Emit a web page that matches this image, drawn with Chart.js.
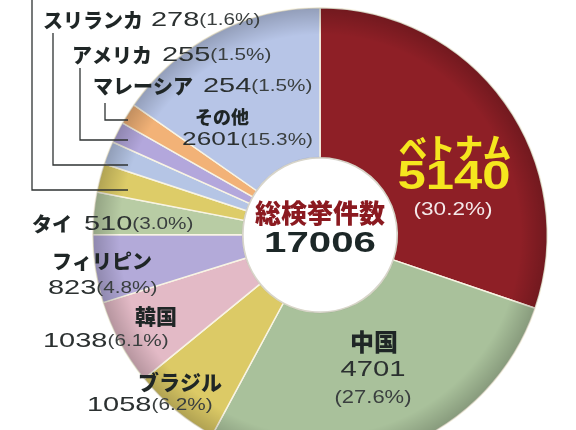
<!DOCTYPE html>
<html lang="ja">
  <head>
    <meta charset="UTF-8" />
    <title>総検挙件数 国籍別</title>
    <script src="https://cdn.jsdelivr.net/npm/chart.js"></script>
    <style>
      html,
      body {
        margin: 0;
        padding: 0;
        background: #ffffff;
        width: 576px;
        height: 430px;
        overflow: hidden;
      }
      #wrap {
        position: absolute;
        left: 0;
        top: 0;
        width: 576px;
        height: 470px;
      }
    </style>
  </head>
  <body>
    <div id="wrap"><canvas id="donut" width="576" height="470"></canvas></div>

    <script>
      // データ（時計回り、上から）
      const countries = [
        "ベトナム",
        "中国",
        "ブラジル",
        "韓国",
        "フィリピン",
        "タイ",
        "",
        "スリランカ",
        "アメリカ",
        "マレーシア",
        "その他",
      ];
      const counts = [5140, 4701, 1058, 1038, 823, 510, 348, 278, 255, 254, 2601];
      const shares = ["30.2", "27.6", "6.2", "6.1", "4.8", "3.0", "2.0", "1.6", "1.5", "1.5", "15.3"];
      const totalLabel = "総検挙件数";
      const totalCount = 17006;

      const sliceColors = [
        "#8e1f26",
        "#a9c19b",
        "#dcca66",
        "#e3bac6",
        "#b3aad9",
        "#b8cca4",
        "#ddcc68",
        "#b5c5e5",
        "#b3a7dc",
        "#f2b277",
        "#b7c5e7",
      ];

      // 文字スタイル
      const NAME = { font: '900 20px "Noto Sans CJK JP"', color: "#1f2626" };
      const NUM = { font: '21px "Liberation Sans"', color: "#2b3030", sx: 1.38 };
      const PCT = { font: '17px "Liberation Sans"', color: "#3a3f3f", sx: 1.22 };

      function part(style, text, gap) {
        return Object.assign({}, style, { text: text, gap: gap || 0 });
      }

      function drawRow(ctx, parts, x, y, align) {
        let total = 0;
        parts.forEach((p) => {
          ctx.font = p.font;
          p.w = ctx.measureText(p.text).width * (p.sx || 1);
          total += p.w + p.gap;
        });
        let cx = align === "right" ? x - total : align === "center" ? x - total / 2 : x;
        parts.forEach((p) => {
          ctx.save();
          ctx.font = p.font;
          ctx.fillStyle = p.color;
          ctx.textAlign = "left";
          ctx.textBaseline = "middle";
          ctx.translate(cx, y);
          ctx.scale(p.sx || 1, 1);
          ctx.fillText(p.text, 0, 0);
          ctx.restore();
          cx += p.w + p.gap;
        });
      }

      // ラベル配置
      function layoutLabels(ctx) {
        const num = (i) => String(counts[i]);
        const pct = (i) => "(" + shares[i] + "%)";

        // 上段（引き出し線つき）
        drawRow(ctx, [part(NAME, countries[7], 8), part(NUM, num(7)), part(PCT, pct(7))], 43, 20, "left");
        drawRow(ctx, [part(NAME, countries[8], 10), part(NUM, num(8)), part(PCT, pct(8))], 72, 55, "left");
        drawRow(ctx, [part(NAME, countries[9], 10), part(NUM, num(9)), part(PCT, pct(9))], 93, 86, "left");

        // その他
        drawRow(ctx, [part(Object.assign({}, NAME, { font: '900 18px "Noto Sans CJK JP"' }), countries[10])], 195, 117, "left");
        drawRow(ctx, [part(Object.assign({}, NUM, { font: '19px "Liberation Sans"' }), num(10)), part(PCT, pct(10))], 313, 140, "right");

        // ベトナム
        drawRow(ctx, [part({ font: '900 28px "Noto Sans CJK JP"', color: "#f5e61e" }, countries[0])], 455, 148, "center");
        drawRow(ctx, [part({ font: 'bold 40px "Liberation Sans"', color: "#f5e61e", sx: 1.27 }, num(0))], 454, 178, "center");
        drawRow(ctx, [part({ font: '18px "Liberation Sans"', color: "#f4e9ea", sx: 1.25 }, pct(0))], 453, 210, "center");

        // 中国
        drawRow(ctx, [part({ font: '900 24px "Noto Sans CJK JP"', color: "#1f2626" }, countries[1])], 374, 342, "center");
        drawRow(ctx, [part(Object.assign({}, NUM, { font: '22px "Liberation Sans"', sx: 1.33 }), num(1))], 373, 370, "center");
        drawRow(ctx, [part({ font: '18px "Liberation Sans"', color: "#3a3f3f", sx: 1.22 }, pct(1))], 373, 398, "center");

        // タイ
        drawRow(ctx, [part(NAME, countries[5], 12), part(NUM, num(5)), part(PCT, pct(5))], 32, 224, "left");

        // フィリピン
        drawRow(ctx, [part(NAME, countries[4])], 52, 261, "left");
        drawRow(ctx, [part(NUM, num(4)), part(PCT, pct(4))], 48, 288, "left");

        // 韓国
        drawRow(ctx, [part(Object.assign({}, NAME, { font: '900 21px "Noto Sans CJK JP"' }), countries[3])], 135, 316, "left");
        drawRow(ctx, [part(NUM, num(3)), part(PCT, pct(3))], 43, 341, "left");

        // ブラジル
        drawRow(ctx, [part(Object.assign({}, NAME, { font: '900 21px "Noto Sans CJK JP"' }), countries[2])], 138, 382, "left");
        drawRow(ctx, [part(NUM, num(2)), part(PCT, pct(2))], 87, 405, "left");
      }

      const decor = {
        id: "decor",
        afterDatasetsDraw(chart) {
          const ctx = chart.ctx;
          const arc = chart.getDatasetMeta(0).data[0];
          const { x, y, outerRadius, innerRadius } = arc;

          // 外周の陰影
          ctx.save();
          const g = ctx.createRadialGradient(x, y, innerRadius, x, y, outerRadius);
          g.addColorStop(0, "rgba(0,0,0,0)");
          g.addColorStop(0.82, "rgba(0,0,0,0)");
          g.addColorStop(1, "rgba(0,0,0,0.2)");
          ctx.beginPath();
          ctx.arc(x, y, outerRadius, 0, Math.PI * 2);
          ctx.arc(x, y, innerRadius, 0, Math.PI * 2, true);
          ctx.fillStyle = g;
          ctx.fill();

          // 中央の円のふち
          ctx.beginPath();
          ctx.arc(x, y, innerRadius, 0, Math.PI * 2);
          ctx.strokeStyle = "rgba(120,120,120,0.25)";
          ctx.lineWidth = 2;
          ctx.stroke();
          ctx.restore();

          // 引き出し線
          ctx.save();
          ctx.strokeStyle = "#2f3333";
          ctx.lineWidth = 1.3;
          [
            [32, -2, 190],
            [53, 33, 165],
            [80, 68, 140],
            [105, 103, 120],
          ].forEach(([lx, top, ly]) => {
            ctx.beginPath();
            ctx.moveTo(lx, top);
            ctx.lineTo(lx, ly);
            ctx.lineTo(128, ly);
            ctx.stroke();
          });
          ctx.restore();

          // 中央テキスト
          drawRow(ctx, [part({ font: '900 26px "Noto Sans CJK JP"', color: "#8b1a20" }, totalLabel)], x, 213, "center");
          drawRow(ctx, [part({ font: 'bold 30px "Liberation Sans"', color: "#1c2727", sx: 1.34 }, String(totalCount))], x, 244, "center");

          layoutLabels(ctx);
        },
      };

      new Chart(document.getElementById("donut"), {
        type: "doughnut",
        data: {
          labels: countries,
          datasets: [
            {
              data: counts,
              backgroundColor: sliceColors,
              borderColor: "#f8f4e4",
              borderWidth: 1.5,
            },
          ],
        },
        options: {
          responsive: false,
          animation: false,
          cutout: "34%",
          layout: { padding: { left: 92, right: 28, top: 7, bottom: 7 } },
          plugins: {
            legend: { display: false },
            tooltip: { enabled: false },
          },
        },
        plugins: [decor],
      });
    </script>
  </body>
</html>
